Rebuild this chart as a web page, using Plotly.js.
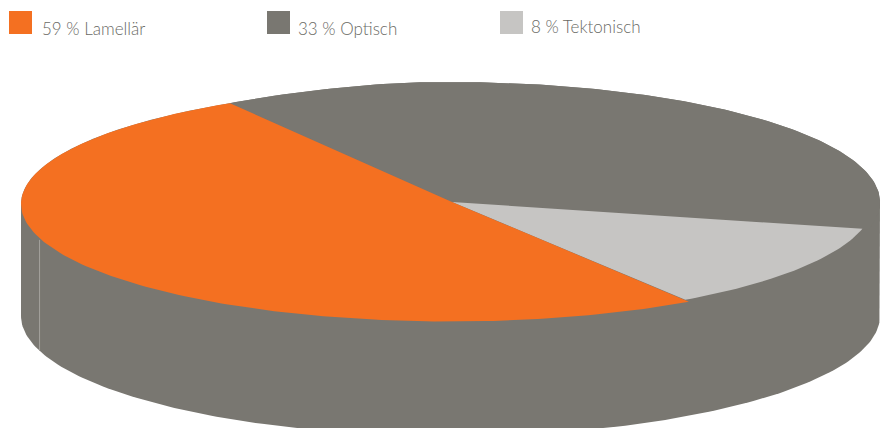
<!DOCTYPE html>
<html>
<head>
<meta charset="utf-8">
<script src="https://cdn.plot.ly/plotly-3.0.1.min.js"></script>
<style>html,body{margin:0;padding:0;background:#fff}#chart{width:884px;height:428px}</style>
</head>
<body>
<div id="chart"></div>
<script>
// Data
const categories = ['Lamellär', 'Optisch', 'Tektonisch'];
const legendPercent = [59, 33, 8];
// Shares of the drawn disc (the perspective drawing differs from the labels).
const drawnShare = [50.78, 37.25, 11.97];
const colors = ['#F47021', '#797771', '#C6C5C3'];

// Disc geometry (axis units equal page pixels)
const disc = {cx: 450.5, cy: 202, rx: 429.5, ry: 120, depth: 114, apexX: 452, start: -30.9, rimBlend: 25};
const sliceRx = [1, 1, 0.985];
const sliceRy = [0.979, 1, 0.98];
const sliceDy = [2, 0, 0];
const drawOrder = [1, 2, 0];       // clockwise from disc.start
const seamAngle = -106.9;
const legendBoxX = [20.5, 278.5, 511.5];
const legendTextX = [39.5, 296, 529];
const legendTextY = [28.5, 28.5, 26.5];

const rad = d => d * Math.PI / 180;
const ex = (t, k = 1) => disc.cx + disc.rx * k * Math.sin(rad(t));
const ey = (t, k = 1, dy = 0) => disc.cy + dy - disc.ry * k * Math.cos(rad(t));

function range(a, b, n) {
  const out = [];
  for (let i = 0; i <= n; i++) out.push(a + (b - a) * i / n);
  return out;
}

// Silhouette: the rim follows the orange slice on the upper left and eases
// to the full upper ellipse behind it; the lower half is the lower ellipse.
function rimY(t) {
  const w = Math.min(1, Math.max(0, (t - disc.start) / disc.rimBlend));
  return ey(t, sliceRy[0] + (1 - sliceRy[0]) * w, sliceDy[0] * (1 - w));
}
const upper = range(-90, 90, 180), lower = range(90, 270, 180);
const side = {
  x: upper.map(t => ex(t)).concat(lower.map(t => ex(t))),
  y: upper.map(rimY).concat(lower.map(t => ey(t, 1, disc.depth)))
};

const traces = [{
  type: 'scatter', mode: 'lines', x: side.x, y: side.y, fill: 'toself',
  fillcolor: colors[1], line: {width: 0}, hoverinfo: 'skip', showlegend: false
}, {
  type: 'scatter', mode: 'lines',
  x: [ex(seamAngle), ex(seamAngle)],
  y: [ey(seamAngle) + 3, ey(seamAngle, 1, disc.depth)],
  line: {color: '#A3A19D', width: 1}, hoverinfo: 'skip', showlegend: false
}];

let a = disc.start;
drawOrder.forEach(i => {
  const sweep = drawnShare[i] * 3.6;
  const ts = range(a, a + sweep, Math.ceil(sweep));
  traces.push({
    type: 'scatter', mode: 'lines', name: categories[i],
    x: [disc.apexX].concat(ts.map(t => ex(t, sliceRx[i]))),
    y: [disc.cy].concat(ts.map(t => i === 1 ? rimY(t) : ey(t, sliceRy[i], sliceDy[i]))),
    fill: 'toself', fillcolor: colors[i], line: {width: 0},
    hoverinfo: 'skip', showlegend: false
  });
  a += sweep;
});

traces.push({
  type: 'scatter', mode: 'markers',
  x: legendBoxX, y: categories.map(() => 22.5),
  marker: {symbol: 'square', size: 23, color: colors, line: {width: 0}},
  hoverinfo: 'skip', showlegend: false
});

const annotations = categories.map((c, i) => ({
  x: legendTextX[i], y: legendTextY[i], xref: 'x', yref: 'y',
  xanchor: 'left', yanchor: 'middle', showarrow: false,
  text: legendPercent[i] + ' % ' + c,
  font: {family: 'Lato, sans-serif', size: 17, weight: 300, color: '#6a6a65'}
}));

Plotly.newPlot('chart', traces, {
  width: 884, height: 428,
  margin: {l: 0, r: 0, t: 0, b: 0},
  paper_bgcolor: '#fff', plot_bgcolor: '#fff',
  showlegend: false,
  xaxis: {range: [0, 884], visible: false, fixedrange: true},
  yaxis: {range: [428, 0], visible: false, fixedrange: true},
  annotations: annotations
}, {displayModeBar: false, staticPlot: true});
</script>
</body>
</html>
